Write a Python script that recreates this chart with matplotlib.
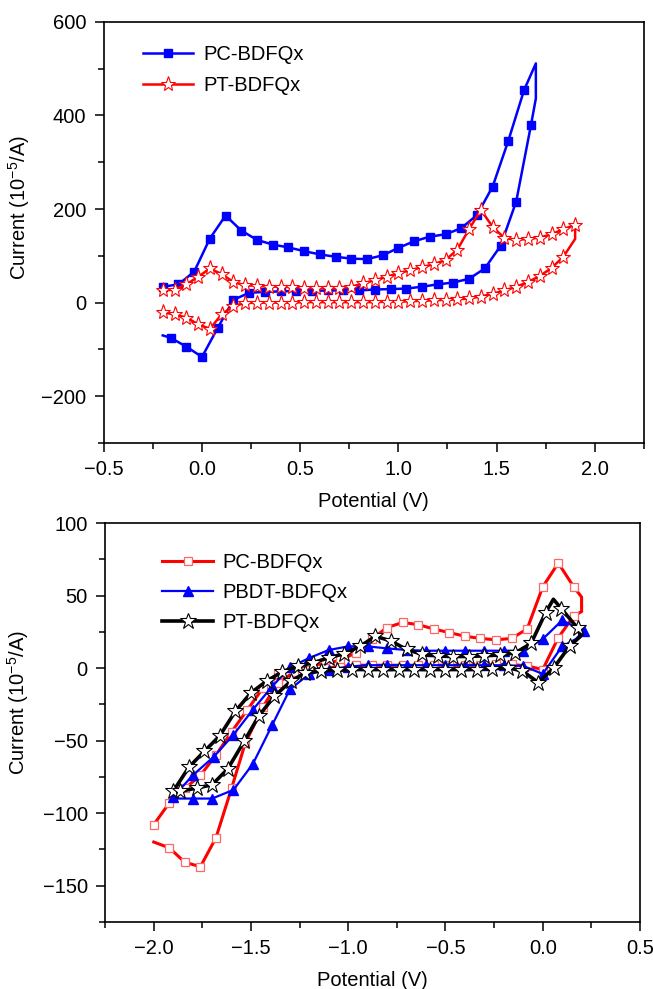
import numpy as np
import matplotlib
matplotlib.use("Agg")
import matplotlib.pyplot as plt
from matplotlib.ticker import MultipleLocator

plt.rcParams['font.family'] = ['Liberation Sans', 'DejaVu Sans']
plt.rcParams['mathtext.fontset'] = 'custom'
plt.rcParams['mathtext.rm'] = 'Liberation Sans'
plt.rcParams['mathtext.it'] = 'Liberation Sans'

# ---------------- top panel data ----------------
# PC-BDFQx (blue squares), scan order
top_pc_x = [-0.2, -0.12, -0.04, 0.04, 0.12, 0.2, 0.28, 0.36, 0.44, 0.52, 0.6, 0.68,
            0.76, 0.84, 0.92, 1.0, 1.08, 1.16, 1.24, 1.32, 1.4, 1.48, 1.56, 1.64, 1.70,
            1.70, 1.675, 1.6, 1.52, 1.44, 1.36, 1.28, 1.2, 1.12, 1.04, 0.96, 0.88, 0.8,
            0.72, 0.64, 0.56, 0.48, 0.4, 0.32, 0.24, 0.16, 0.08, 0.0, -0.08, -0.16, -0.2]
top_pc_y = [34, 39, 66, 137, 186, 154, 134, 124, 118, 110, 103, 98,
            94, 93, 101, 117, 131, 141, 146, 159, 187, 248, 346, 454, 511,
            436, 379, 216, 121, 73, 51, 43, 39, 34, 30, 29, 28, 26,
            26, 26, 25, 25, 24, 23, 21, 6, -54, -116, -94, -75, -70]
top_pc_nomark = [24, 25, 50]

# PT-BDFQx (red stars)
top_pt_x = [-0.2, -0.14, -0.08, -0.02, 0.04, 0.10, 0.16, 0.22, 0.28, 0.34, 0.40, 0.46,
            0.52, 0.58, 0.64, 0.70, 0.76, 0.82, 0.88, 0.94, 1.00, 1.06, 1.12, 1.18,
            1.24, 1.30, 1.36, 1.42, 1.48, 1.54, 1.60, 1.66, 1.72, 1.78, 1.84, 1.90,
            1.90, 1.84, 1.78, 1.72, 1.66, 1.60, 1.54, 1.48, 1.42, 1.36, 1.30, 1.24,
            1.18, 1.12, 1.06, 1.00, 0.94, 0.88, 0.82, 0.76, 0.70, 0.64, 0.58, 0.52,
            0.46, 0.40, 0.34, 0.28, 0.22, 0.16, 0.10, 0.04, -0.02, -0.08, -0.14, -0.2]
top_pt_y = [27, 27, 39, 55, 73, 61, 44, 37, 36, 34, 34, 33,
            32, 31, 31, 31, 34, 41, 48, 55, 63, 69, 76, 82,
            91, 113, 157, 198, 162, 138, 134, 136, 139, 146, 157, 166,
            136, 98, 74, 57, 44, 34, 26, 19, 13, 9, 7, 6,
            5, 4, 3, 2, 2, 1, 1, 1, 1, 1, 1, 1,
            0, 0, 0, 0, -1, -7, -25, -56, -46, -32, -25, -21]
top_pt_nomark = [36]

# ---------------- bottom panel data ----------------
# PC-BDFQx (red open squares)
bot_pc_x = [-2.0, -1.92, -1.84, -1.76, -1.68, -1.60, -1.52, -1.44, -1.36, -1.28, -1.20,
            -1.12, -1.04, -0.96, -0.88, -0.80, -0.72, -0.64, -0.56, -0.48, -0.40, -0.32,
            -0.24, -0.16, -0.08, 0.0, 0.08, 0.16, 0.20, 0.20, 0.16, 0.08, 0.0, -0.08,
            -0.16, -0.24, -0.32, -0.40, -0.48, -0.56, -0.64, -0.72, -0.80, -0.88, -0.96,
            -1.04, -1.12, -1.20, -1.28, -1.36, -1.44, -1.53, -1.60, -1.68, -1.76, -1.84,
            -1.92, -2.0]
bot_pc_y = [-108, -93, -83, -74, -60, -44, -29, -14, -4, 0, 2,
            3, 5.5, 10.6, 20, 28, 31.5, 30, 27, 24.5, 22, 20.5,
            19.5, 20.5, 27, 56, 72.5, 56, 49, 39, 36, 21, -1, 1.5,
            2.5, 2.5, 2, 2, 2, 2, 2, 2, 2, 2, 2,
            1, 0, -1, -3, -10, -27, -52, -83, -117, -137, -134,
            -124, -120]
bot_pc_nomark = [28, 29, 57]

# PBDT-BDFQx (blue triangles)
bot_pb_x = [-1.90, -1.80, -1.69, -1.59, -1.49, -1.39, -1.30, -1.20, -1.10, -1.0, -0.90,
            -0.80, -0.70, -0.60, -0.50, -0.40, -0.30, -0.20, -0.10, 0.0, 0.10, 0.21,
            0.17, 0.10, 0.0, -0.10, -0.20, -0.30, -0.40, -0.50, -0.60, -0.70, -0.80,
            -0.90, -1.0, -1.10, -1.20, -1.30, -1.39, -1.49, -1.59, -1.70, -1.80, -1.90]
bot_pb_y = [-89, -74, -61, -46, -28.6, -12.5, 0.5, 7, 12.5, 15, 15,
            13.6, 12.5, 12, 12, 12, 12, 12, 12, 20, 33, 25.6,
            20, 15, -4, 1.5, 2, 2, 2, 2, 2, 2, 2,
            2, 1, -1, -4, -14.7, -39, -66, -84, -90, -90, -90]
bot_pb_nomark = [22, 43]

# PT-BDFQx (black stars)
bot_pt_x = [-1.90, -1.82, -1.74, -1.66, -1.58, -1.50, -1.42, -1.34, -1.26, -1.18, -1.10,
            -1.02, -0.94, -0.86, -0.78, -0.70, -0.62, -0.54, -0.46, -0.38, -0.30, -0.22,
            -0.14, -0.06, 0.015, 0.055, 0.096, 0.18, 0.195, 0.138, 0.058, -0.022, -0.104,
            -0.18, -0.26, -0.34, -0.42, -0.50, -0.58, -0.66, -0.74, -0.82, -0.90, -0.98,
            -1.06, -1.14, -1.22, -1.295, -1.38, -1.46, -1.535, -1.62, -1.70, -1.78,
            -1.865, -1.90]
bot_pt_y = [-85, -68.5, -57.4, -46.6, -29.7, -17, -9, -2.5, 1.4, 3.7, 7.2,
            10, 15, 22, 18.7, 12.9, 9.5, 8.3, 8, 8, 8.5, 9,
            10.6, 17, 38.3, 47.5, 41, 27.5, 22, 15.2, 0.3, -10, -2,
            0.3, -0.5, -1, -1, -1, -1, -1, -1, -1, -1, -1,
            -1.5, -2, -3.2, -9, -19.4, -33, -50.5, -69.6, -80.5, -82.8,
            -85, -86]
bot_pt_nomark = [25, 28, 55]


def marks(n, skip):
    return [i for i in range(n) if i not in skip]


fig = plt.figure(figsize=(6.53, 9.89), dpi=100)
ax1 = fig.add_axes([0.159, 0.552, 0.827, 0.426])
ax2 = fig.add_axes([0.161, 0.068, 0.819, 0.403])

fs = 14.5

# top panel
ax1.plot(top_pc_x, top_pc_y, color='#0000ff', lw=1.8, marker='s', ms=6,
         mfc='#0000ff', mec='#0000ff', markevery=marks(len(top_pc_x), top_pc_nomark),
         label='PC-BDFQx', zorder=2)
ax1.plot(top_pt_x, top_pt_y, color='#ff0000', lw=1.8, marker='*', ms=11,
         mfc='white', mec='#ff0000', mew=0.8,
         markevery=marks(len(top_pt_x), top_pt_nomark), label='PT-BDFQx', zorder=3)
ax1.set_xlim(-0.5, 2.25)
ax1.set_ylim(-300, 600)
ax1.xaxis.set_major_locator(MultipleLocator(0.5))
ax1.xaxis.set_minor_locator(MultipleLocator(0.25))
ax1.yaxis.set_major_locator(MultipleLocator(200))
ax1.yaxis.set_minor_locator(MultipleLocator(100))
ax1.set_xlabel('Potential (V)', fontsize=fs, labelpad=9)
ax1.set_ylabel('Current (10$^{-5}$/A)', fontsize=fs)
ax1.yaxis.set_label_coords(-0.133, 0.56)
ax1.legend(loc='upper left', bbox_to_anchor=(0.072, 0.945), frameon=False,
           fontsize=fs, handlelength=2.5, handletextpad=0.5, labelspacing=0.6,
           borderpad=0, borderaxespad=0)

# bottom panel
ax2.plot(bot_pc_x, bot_pc_y, color='#ff0000', lw=2.2, marker='s', ms=6,
         mfc='white', mec='#ff6666', mew=0.9,
         markevery=marks(len(bot_pc_x), bot_pc_nomark), label='PC-BDFQx', zorder=2)
ax2.plot(bot_pb_x, bot_pb_y, color='#0000ff', lw=1.6, marker='^', ms=7.5,
         mfc='#0000ff', mec='#0000ff',
         markevery=marks(len(bot_pb_x), bot_pb_nomark), label='PBDT-BDFQx', zorder=3)
ax2.plot(bot_pt_x, bot_pt_y, color='black', lw=2.6, marker='*', ms=12,
         mfc='white', mec='black', mew=0.8,
         markevery=marks(len(bot_pt_x), bot_pt_nomark), label='PT-BDFQx', zorder=4)
ax2.set_xlim(-2.25, 0.5)
ax2.set_ylim(-175, 100)
ax2.xaxis.set_major_locator(MultipleLocator(0.5))
ax2.xaxis.set_minor_locator(MultipleLocator(0.25))
ax2.yaxis.set_major_locator(MultipleLocator(50))
ax2.yaxis.set_minor_locator(MultipleLocator(25))
ax2.set_xlabel('Potential (V)', fontsize=fs, labelpad=9)
ax2.set_ylabel('Current (10$^{-5}$/A)', fontsize=fs)
ax2.yaxis.set_label_coords(-0.138, 0.549)
ax2.legend(loc='upper left', bbox_to_anchor=(0.107, 0.925), frameon=False,
           fontsize=fs, handlelength=2.5, handletextpad=0.5, labelspacing=0.55,
           borderpad=0, borderaxespad=0)

for ax in (ax1, ax2):
    ax.tick_params(which='major', direction='out', length=6.5, width=1.1, labelsize=fs,
                   pad=6, top=False, right=False)
    ax.tick_params(which='minor', direction='out', length=4, width=1.1,
                   top=False, right=False)
    for s in ax.spines.values():
        s.set_linewidth(1.2)

fig.savefig('out.png', dpi=100)
